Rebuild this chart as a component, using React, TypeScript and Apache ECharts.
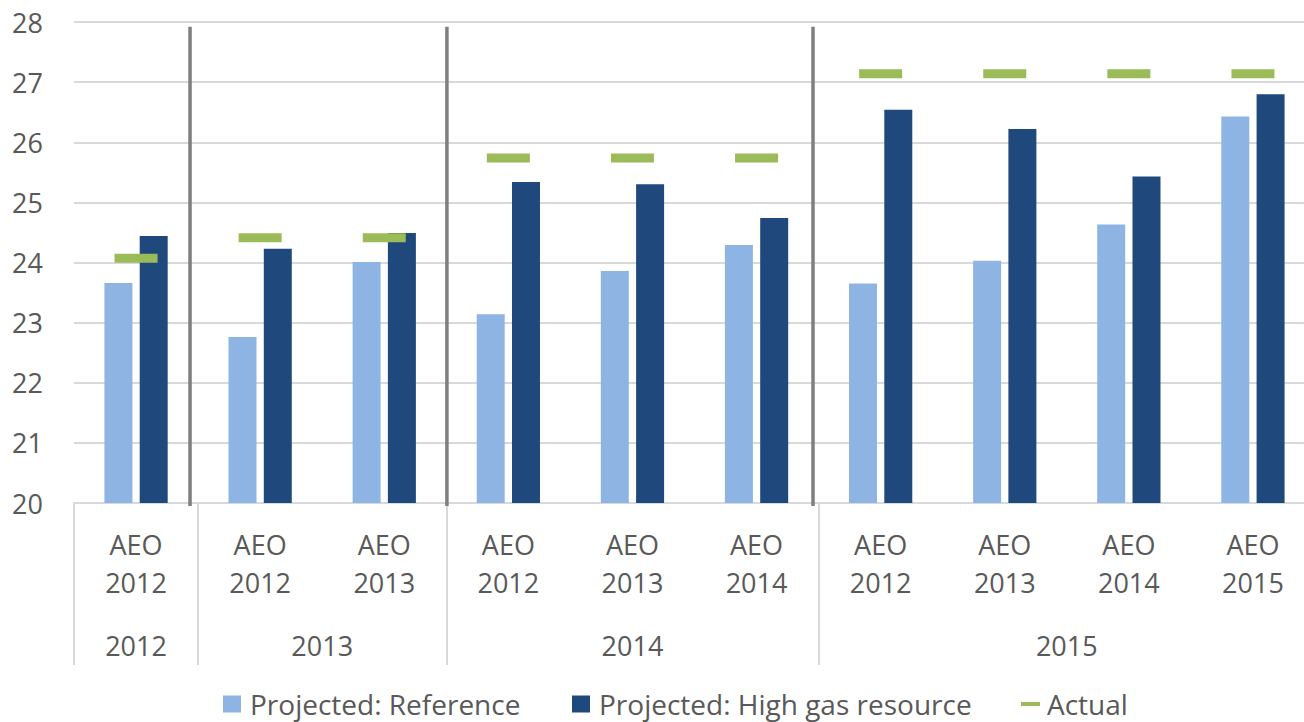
import React, { useEffect, useRef } from "react";
import * as echarts from "echarts";

// ---- data ----
const aeoLabels = [
  "AEO\n2012",
  "AEO\n2012",
  "AEO\n2013",
  "AEO\n2012",
  "AEO\n2013",
  "AEO\n2014",
  "AEO\n2012",
  "AEO\n2013",
  "AEO\n2014",
  "AEO\n2015",
];
const yearLabels = ["2012", "2013", "2014", "2015"];
const yearGroupSizes = [1, 2, 3, 4];

const projectedReference = [23.66, 22.76, 24.01, 23.14, 23.86, 24.29, 23.65, 24.03, 24.63, 26.43];
const projectedHighGas = [24.44, 24.23, 24.49, 25.34, 25.3, 24.74, 26.54, 26.22, 25.43, 26.8];
const actual = [24.07, 24.41, 24.41, 25.74, 25.74, 25.74, 27.14, 27.14, 27.14, 27.14];

// vertical divider lines in the plot (in category units from the left edge)
const dividerX = [0.935, 3.005, 5.955];
const dividerTop = 27.92;
const dividerBottom = 19.95;

const yMin = 20;
const yMax = 28;
const yStep = 1;

const FONT = "'Open Sans', sans-serif";
const TEXT = "#595959";
const GRID = "#D9D9D9";

export default function App() {
  const ref = useRef<HTMLDivElement>(null);

  useEffect(() => {
    if (!ref.current) return;
    document.documentElement.style.overflow = "hidden";
    document.body.style.overflow = "hidden";
    const chart = echarts.init(ref.current, undefined, { renderer: "svg" });

    // build the second-level (year) axis on half-category points
    const nPts = aeoLabels.length * 2 + 1;
    const labelAt: Record<number, string> = {};
    const boundaries = new Set<number>([0]);
    let start = 0;
    yearGroupSizes.forEach((size, i) => {
      labelAt[start * 2 + size] = yearLabels[i];
      start += size;
      boundaries.add(start * 2);
    });
    const yearAxisData = Array.from({ length: nPts }, (_, i) =>
      labelAt[i] !== undefined ? labelAt[i] : `h${i}`
    );

    const dividerSeries = dividerX.map((x) => ({
      type: "line",
      name: "divider",
      xAxisIndex: 2,
      yAxisIndex: 0,
      data: [
        [x, dividerTop],
        [x, dividerBottom],
      ],
      symbol: "none",
      clip: false,
      silent: true,
      z: 5,
      lineStyle: { color: "#7F7F7F", width: 3.5 },
    }));

    const legendText = { color: TEXT, fontSize: 28, fontFamily: FONT, padding: [0, 0, 0, 4] };

    chart.setOption({
      animation: false,
      textStyle: { fontFamily: FONT },
      grid: { left: 74, right: 0, top: 22, bottom: 219, containLabel: false },
      legend: [
        {
          left: 223,
          top: 690,
          padding: 0,
          itemWidth: 18,
          itemHeight: 17,
          icon: "rect",
          data: ["Projected: Reference"],
          textStyle: legendText,
          selectedMode: false,
        },
        {
          left: 572,
          top: 690,
          padding: 0,
          itemWidth: 18,
          itemHeight: 17,
          icon: "rect",
          data: ["Projected: High gas resource"],
          textStyle: legendText,
          selectedMode: false,
        },
        {
          left: 1021,
          top: 690,
          padding: 0,
          itemWidth: 19,
          itemHeight: 4,
          icon: "rect",
          data: ["Actual"],
          textStyle: { ...legendText, padding: [0, 0, 0, 2] },
          selectedMode: false,
        },
      ],
      xAxis: [
        {
          type: "category",
          data: aeoLabels,
          position: "bottom",
          boundaryGap: true,
          axisLine: { show: true, onZero: false, lineStyle: { color: GRID, width: 2 } },
          axisTick: { show: false },
          axisLabel: {
            interval: 0,
            color: TEXT,
            fontSize: 27,
            fontFamily: FONT,
            lineHeight: 38,
            margin: 22,
          },
          splitLine: { show: false },
        },
        {
          type: "category",
          data: yearAxisData,
          position: "bottom",
          boundaryGap: false,
          axisLine: { show: false, onZero: false },
          axisTick: {
            show: true,
            inside: false,
            length: 162,
            interval: (index: number) => boundaries.has(index),
            lineStyle: { color: GRID, width: 2 },
          },
          axisLabel: {
            interval: (index: number) => labelAt[index] !== undefined,
            color: TEXT,
            fontSize: 27,
            fontFamily: FONT,
            lineHeight: 38,
            margin: 123,
          },
          splitLine: { show: false },
        },
        {
          type: "value",
          min: 0,
          max: aeoLabels.length,
          show: false,
        },
      ],
      yAxis: {
        type: "value",
        min: yMin,
        max: yMax,
        interval: yStep,
        axisLine: { show: false },
        axisTick: { show: false },
        axisLabel: { color: TEXT, fontSize: 27, fontFamily: FONT, margin: 31 },
        splitLine: { show: true, lineStyle: { color: GRID, width: 2 } },
      },
      series: [
        {
          type: "bar",
          name: "Projected: Reference",
          data: projectedReference,
          xAxisIndex: 0,
          barWidth: 28,
          barGap: "26%",
          itemStyle: { color: "#8EB4E3" },
          z: 2,
        },
        {
          type: "bar",
          name: "Projected: High gas resource",
          data: projectedHighGas,
          xAxisIndex: 0,
          barWidth: 28,
          barGap: "26%",
          itemStyle: { color: "#1F497D" },
          z: 2,
        },
        {
          type: "scatter",
          name: "Actual",
          data: actual,
          xAxisIndex: 0,
          symbol: "rect",
          symbolSize: [43, 9],
          itemStyle: { color: "#9BBB59", opacity: 1 },
          z: 4,
        },
        ...dividerSeries,
      ],
    });

    return () => chart.dispose();
  }, []);

  return (
    <div
      ref={ref}
      style={{ position: "fixed", left: 0, top: 0, width: 1315, height: 722, background: "#fff" }}
    />
  );
}
